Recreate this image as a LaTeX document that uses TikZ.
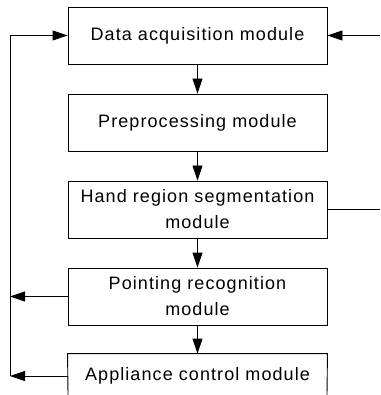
\documentclass[tikz,border=0pt]{standalone}
\usepackage{fontspec}
\setmainfont[LetterSpace=6]{Liberation Sans}
\usetikzlibrary{arrows.meta}
\begin{document}
\begin{tikzpicture}[x=1pt,y=-1pt,
  label font/.style={font=\fontsize{18}{26}\selectfont},
  module/.style={draw, line width=0.9pt, minimum width=259pt, minimum height=57pt,
    inner sep=0pt, align=center, label font},
  flow/.style={line width=0.9pt, -{Triangle[length=15pt,width=10pt]}},
  plain/.style={line width=0.9pt}]
\useasboundingbox (0,0) rectangle (380,395);

\node[module] (acq) at (197.5,35.5) {Data acquisition module};
\node[module] (pre) at (197.5,122.5) {Preprocessing module};
\node[module] (seg) at (197.5,209.5) {Hand region segmentation\\module};
\node[module] (poi) at (197.5,296.5) {Pointing recognition\\module};
\node[module, draw=none] (app) at (197.5,382.5) {};
\node[label font] (applabel) at (197.5,376) {Appliance control module};

% open-bottomed last module
\coordinate (appbl) at (68,395);
\coordinate (appbr) at (327,395);
\draw[plain] (appbl) -- (app.north west) -- (app.north east) -- (appbr);

% main chain
\draw[flow] (acq) -- (pre);
\draw[flow] (pre) -- (seg);
\draw[flow] (seg) -- (poi);
\draw[flow] (poi) -- (app.north);

% feedback bus on the left
\coordinate (busTop) at (10,35.5);
\coordinate (busPoi) at (10,296.5);
\coordinate (busApp) at (10,376);
\coordinate (appW) at (68,376);
\draw[plain] (busTop) -- (busApp);
\draw[flow] (busTop) -- (acq.west);
\draw[flow] (poi.west) -- (busPoi);
\draw[flow] (appW) -- (busApp);

% right-hand external lines
\coordinate (inR) at (380,35.5);
\coordinate (outR) at (380,209.5);
\draw[flow] (inR) -- (acq.east);
\draw[plain] (seg.east) -- (outR);
\end{tikzpicture}
\end{document}
